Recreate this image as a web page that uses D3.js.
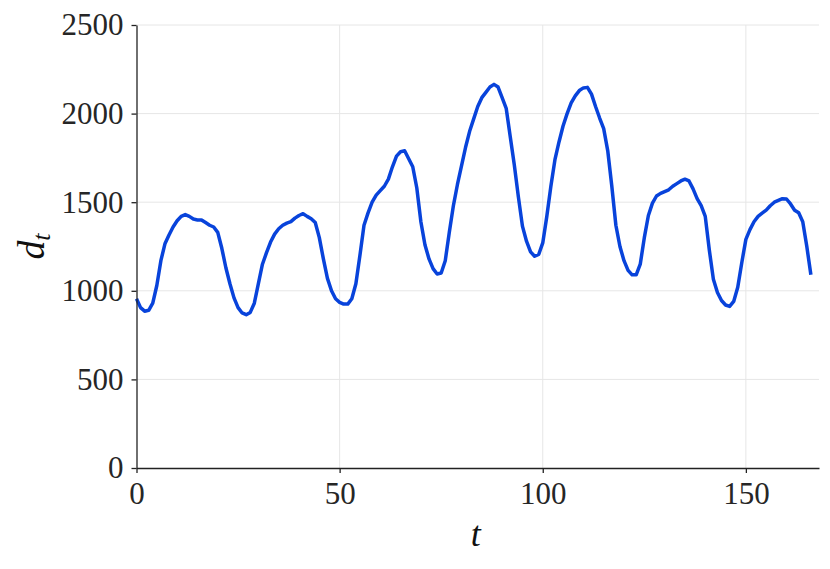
<!DOCTYPE html>
<html>
<head>
<meta charset="utf-8">
<script src="https://cdn.jsdelivr.net/npm/d3@7"></script>
<style>
  body { margin: 0; background: #fff; }
  text { font-family: "Liberation Serif", "DejaVu Serif", serif; }
</style>
</head>
<body>
<script>
// hourly demand d_t, t = 0 .. 166
var demand = [
  955, 905, 885, 890, 930, 1030, 1170, 1265, 1315, 1360,
  1395, 1420, 1430, 1420, 1405, 1400, 1400, 1385, 1370, 1360,
  1330, 1240, 1130, 1040, 960, 905, 875, 865, 878, 930,
  1040, 1150, 1215, 1275, 1320, 1350, 1370, 1382, 1390, 1410,
  1425, 1435, 1420, 1407, 1385, 1300, 1180, 1070, 1000, 955,
  935, 925, 925, 955, 1040, 1200, 1370, 1440, 1500, 1540,
  1565, 1590, 1630, 1700, 1760, 1785, 1790, 1745, 1700, 1580,
  1390, 1260, 1180, 1125, 1095, 1100, 1170, 1330, 1480, 1600,
  1705, 1810, 1900, 1970, 2040, 2090, 2120, 2150, 2165, 2150,
  2090, 2030, 1870, 1710, 1530, 1365, 1280, 1220, 1195, 1205,
  1270, 1420, 1590, 1740, 1840, 1930, 2000, 2060, 2100, 2130,
  2145, 2148, 2110, 2040, 1975, 1915, 1790, 1590, 1370, 1250,
  1170, 1115, 1090, 1090, 1150, 1300, 1425, 1495, 1535, 1550,
  1560, 1570, 1590, 1605, 1620, 1630, 1620, 1575, 1520, 1480,
  1420, 1230, 1065, 990, 945, 920, 912, 940, 1020, 1160,
  1290, 1345, 1390, 1420, 1438, 1455, 1480, 1500, 1510, 1520,
  1518, 1490, 1455, 1440, 1390, 1250, 1090
];
var xTicks = [0, 50, 100, 150];
var yTicks = [0, 500, 1000, 1500, 2000, 2500];

var svg = d3.select("body").append("svg")
  .attr("width", 830)
  .attr("height", 569);

var margin = {top: 25, right: 11, bottom: 101, left: 136.5},
  width = 830 - margin.left - margin.right,
  height = 569 - margin.top - margin.bottom,
  g = svg.append("g").attr("transform", "translate(" + margin.left + "," + margin.top + ")");

var x = d3.scaleLinear().domain([0, 168]).range([0, width]);
var y = d3.scaleLinear().domain([0, 2500]).range([height, 0]);

// grid
g.append("g").selectAll("line").data(yTicks.slice(1)).enter().append("line")
  .attr("x1", 0).attr("x2", width)
  .attr("y1", function(d) { return y(d); }).attr("y2", function(d) { return y(d); })
  .attr("stroke", "#e6e6e6").attr("stroke-width", 1);
g.append("g").selectAll("line").data(xTicks.slice(1)).enter().append("line")
  .attr("y1", 0).attr("y2", height)
  .attr("x1", function(d) { return x(d); }).attr("x2", function(d) { return x(d); })
  .attr("stroke", "#e6e6e6").attr("stroke-width", 1);

var line = d3.line()
  .x(function(d, i) { return x(i); })
  .y(function(d) { return y(d); });

g.append("path")
  .datum(demand)
  .attr("fill", "none")
  .attr("stroke", "#0843db")
  .attr("stroke-width", 3.5)
  .attr("stroke-linejoin", "round")
  .attr("d", line);

var xAxis = g.append("g")
  .attr("transform", "translate(0," + height + ")")
  .call(d3.axisBottom(x).tickValues(xTicks).tickFormat(d3.format("d"))
    .tickSize(5).tickPadding(9).tickSizeOuter(0));
var yAxis = g.append("g")
  .call(d3.axisLeft(y).tickValues(yTicks).tickFormat(d3.format("d"))
    .tickSize(5).tickPadding(8).tickSizeOuter(0));

[xAxis, yAxis].forEach(function(a) {
  a.select(".domain").attr("stroke", "#222").attr("stroke-width", 1.3);
  a.selectAll(".tick line").attr("stroke", "#222").attr("stroke-width", 1.3);
  a.selectAll(".tick text")
    .attr("fill", "#262626")
    .style("font-family", "'Liberation Serif', serif")
    .style("font-size", "31px");
});

// axis labels
svg.append("text")
  .attr("x", margin.left + width / 2 - 2)
  .attr("y", 546)
  .attr("text-anchor", "middle")
  .attr("font-style", "italic")
  .attr("font-size", 36)
  .attr("fill", "#111")
  .text("t");

var yl = svg.append("text")
  .attr("transform", "translate(44," + (margin.top + height / 2) + ") rotate(-90)")
  .attr("text-anchor", "middle")
  .attr("font-style", "italic")
  .attr("font-size", 38)
  .attr("fill", "#111");
yl.append("tspan").text("d");
yl.append("tspan").attr("font-size", 26).attr("dy", 6).text("t");
</script>
</body>
</html>
